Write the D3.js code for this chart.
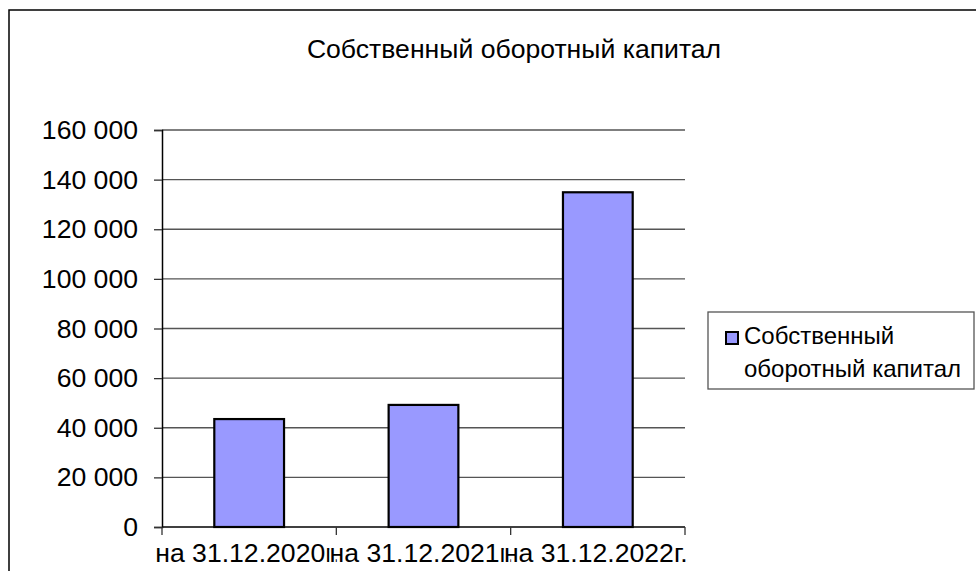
<!DOCTYPE html>
<html>
<head>
<meta charset="utf-8">
<script src="https://cdn.jsdelivr.net/npm/d3@7"></script>
<style>
  body { margin: 0; background: #fff; }
  text { font-family: "Liberation Sans", Arial, sans-serif; fill: #000; }
</style>
</head>
<body>
<script>
// данные с картинки
const categories = ["на 31.12.2020г.", "на 31.12.2021г.", "на 31.12.2022г."];
const values = [43500, 49200, 134900];
const yTicks = [0, 20000, 40000, 60000, 80000, 100000, 120000, 140000, 160000];
const seriesName = "Собственный оборотный капитал";

const width = 976, height = 571;
const plot = { left: 162, right: 685, top: 130, bottom: 527 };

const svg = d3.select("body").append("svg")
    .attr("width", width)
    .attr("height", height);

// рамка вокруг диаграммы
svg.append("rect")
    .attr("x", 9).attr("y", 10)
    .attr("width", 1000).attr("height", 600)
    .attr("fill", "#fff")
    .attr("stroke", "#000")
    .attr("stroke-width", 1.5);

svg.append("text")
    .attr("x", 514).attr("y", 58)
    .attr("text-anchor", "middle")
    .attr("font-size", 26.6)
    .text(seriesName);

const x = d3.scaleBand()
    .domain(categories)
    .range([plot.left, plot.right])
    .paddingInner(0.6)
    .paddingOuter(0.3);

const xCat = d3.scaleBand()
    .domain(categories)
    .range([plot.left, plot.right]);

const y = d3.scaleLinear()
    .domain([0, 160000])
    .range([plot.bottom, plot.top]);

const fmt = v => d3.format(",")(v).replace(/,/g, " ");

// сетка
svg.append("g")
    .selectAll("line")
    .data(yTicks.filter(d => d > 0))
    .join("line")
    .attr("x1", plot.left).attr("x2", plot.right)
    .attr("y1", d => y(d)).attr("y2", d => y(d))
    .attr("stroke", "#555")
    .attr("stroke-width", 1.3);

// ось Y
const yAxis = svg.append("g")
    .attr("transform", `translate(${plot.left},0)`)
    .call(d3.axisLeft(y).tickValues(yTicks).tickFormat(fmt).tickSize(8).tickPadding(16));
yAxis.select(".domain").attr("stroke", "#000").attr("stroke-width", 1.5);
yAxis.selectAll(".tick line").attr("stroke", "#333").attr("stroke-width", 1.3);
yAxis.selectAll("text")
    .attr("font-size", 26.6)
    .attr("font-family", "Liberation Sans, Arial, sans-serif")
    .attr("fill", "#000");

// столбцы
svg.append("g")
    .selectAll("rect")
    .data(values)
    .join("rect")
    .attr("x", (d, i) => x(categories[i]))
    .attr("width", x.bandwidth())
    .attr("y", d => y(d))
    .attr("height", d => y(0) - y(d))
    .attr("fill", "#9999ff")
    .attr("stroke", "#000")
    .attr("stroke-width", 2.2);

// ось X
const xAxisG = svg.append("g")
    .attr("transform", `translate(0,${plot.bottom})`);
xAxisG.append("line")
    .attr("x1", plot.left).attr("x2", plot.right)
    .attr("stroke", "#000").attr("stroke-width", 1.5);
const xEdges = categories.map(c => xCat(c)).concat([plot.right]);
xAxisG.selectAll(".xt")
    .data(xEdges)
    .join("line")
    .attr("class", "xt")
    .attr("x1", d => d).attr("x2", d => d)
    .attr("y1", 0).attr("y2", 8)
    .attr("stroke", "#333").attr("stroke-width", 1.3);
// подписи налезают друг на друга, как в оригинале; следующая перекрывает "г." предыдущей
xAxisG.selectAll("text")
    .data(categories)
    .join("text")
    .attr("x", d => xCat(d) + xCat.bandwidth() / 2 - 2)
    .attr("y", 35)
    .attr("text-anchor", "middle")
    .attr("font-size", 26.6)
    .attr("stroke", "#fff")
    .attr("stroke-width", 4)
    .attr("paint-order", "stroke")
    .text(d => d);

// легенда
const legend = svg.append("g").attr("transform", "translate(708,312)");
legend.append("rect")
    .attr("width", 266).attr("height", 77)
    .attr("fill", "#fff")
    .attr("stroke", "#555")
    .attr("stroke-width", 1.3);
legend.append("rect")
    .attr("x", 18).attr("y", 20)
    .attr("width", 12).attr("height", 12)
    .attr("fill", "#9999ff")
    .attr("stroke", "#000")
    .attr("stroke-width", 2);
legend.append("text")
    .attr("x", 36).attr("y", 32)
    .attr("font-size", 24)
    .text("Собственный");
legend.append("text")
    .attr("x", 36).attr("y", 65)
    .attr("font-size", 24)
    .text("оборотный капитал");
</script>
</body>
</html>
